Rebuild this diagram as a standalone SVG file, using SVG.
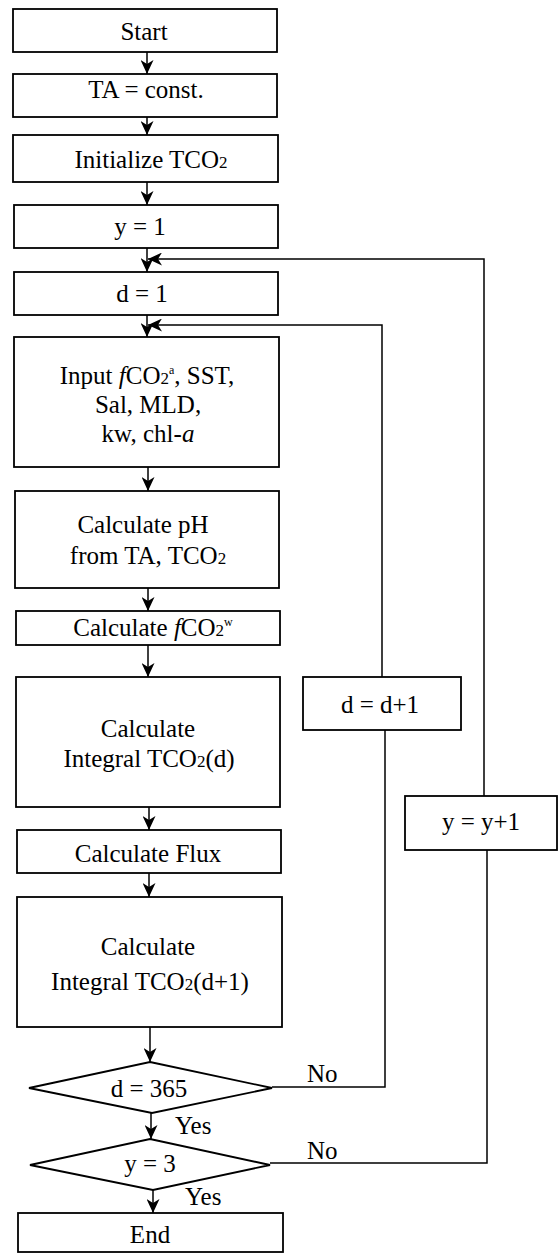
<svg xmlns="http://www.w3.org/2000/svg" width="559" height="1253" viewBox="0 0 559 1253">
<style>
  .box { fill: #fff; stroke: #000; stroke-width: 1.8; }
  .t { font-family: "Liberation Serif", "Times New Roman", serif; font-size: 25px; fill: #000; text-anchor: middle; }
  .tl { font-family: "Liberation Serif", "Times New Roman", serif; font-size: 25px; fill: #000; }
  .c { fill: none; stroke: #000; stroke-width: 1.5; }
  .sub { font-size: 17px; }
  .sup { font-size: 12px; }
</style>
<defs>
  <marker id="ah" viewBox="0 0 14 13" refX="14" refY="6.5" markerWidth="14" markerHeight="13" markerUnits="userSpaceOnUse" orient="auto">
    <path d="M0,0 L14,6.5 L0,13 L4,6.5 z" fill="#000"/>
  </marker>
</defs>
<rect width="559" height="1253" fill="#fff"/>

<g id="connectors">
  <line class="c" x1="147" y1="52" x2="147" y2="74" marker-end="url(#ah)"/>
  <line class="c" x1="147" y1="117" x2="147" y2="135" marker-end="url(#ah)"/>
  <line class="c" x1="147" y1="182" x2="147" y2="205" marker-end="url(#ah)"/>
  <line class="c" x1="147" y1="248" x2="147" y2="272" marker-end="url(#ah)"/>
  <line class="c" x1="147" y1="315" x2="147" y2="337" marker-end="url(#ah)"/>
  <line class="c" x1="148" y1="467" x2="148" y2="491" marker-end="url(#ah)"/>
  <line class="c" x1="148" y1="588" x2="148" y2="611" marker-end="url(#ah)"/>
  <line class="c" x1="148" y1="645" x2="148" y2="677" marker-end="url(#ah)"/>
  <line class="c" x1="149" y1="807" x2="149" y2="830" marker-end="url(#ah)"/>
  <line class="c" x1="149" y1="873" x2="149" y2="897" marker-end="url(#ah)"/>
  <line class="c" x1="150" y1="1027" x2="150" y2="1062" marker-end="url(#ah)"/>
  <line class="c" x1="151" y1="1113" x2="151" y2="1139" marker-end="url(#ah)"/>
  <line class="c" x1="153" y1="1190" x2="153" y2="1213" marker-end="url(#ah)"/>
  <path class="c" d="M382,677 V325 H148" marker-end="url(#ah)"/>
  <path class="c" d="M385,730 V1087 H272"/>
  <path class="c" d="M484,796 V259 H148" marker-end="url(#ah)"/>
  <path class="c" d="M487,850 V1163 H270"/>
  <text class="tl" x="307" y="1082">No</text>
  <text class="tl" x="307" y="1159">No</text>
  <text class="tl" x="175" y="1134">Yes</text>
  <text class="tl" x="185" y="1205">Yes</text>
</g>

<g id="start"><rect class="box" x="13" y="9" width="264" height="43"/><text class="t" x="144" y="40">Start</text></g>
<g id="ta"><rect class="box" x="13" y="74" width="264" height="43"/><text class="t" x="146" y="98">TA = const.</text></g>
<g id="init"><rect class="box" x="13" y="135" width="265" height="47"/><text class="t" x="151" y="168">Initialize TCO<tspan class="sub">2</tspan></text></g>
<g id="y1"><rect class="box" x="14" y="205" width="264" height="43"/><text class="t" x="140" y="235">y = 1</text></g>
<g id="d1"><rect class="box" x="14" y="272" width="264" height="43"/><text class="t" x="142" y="302">d = 1</text></g>
<g id="input"><rect class="box" x="14" y="337" width="265" height="130"/>
  <text class="t" x="147" y="384">Input <tspan font-style="italic">f</tspan>CO<tspan class="sub">2</tspan><tspan class="sup" dy="-10">a</tspan><tspan dy="10">, SST,</tspan></text>
  <text class="t" x="148" y="413">Sal, MLD,</text>
  <text class="t" x="148" y="442">kw, chl-<tspan font-style="italic">a</tspan></text>
</g>
<g id="ph"><rect class="box" x="15" y="491" width="264" height="97"/>
  <text class="t" x="143" y="533">Calculate  pH</text>
  <text class="t" x="148" y="564">from TA, TCO<tspan class="sub">2</tspan></text>
</g>
<g id="fco2w"><rect class="box" x="16" y="611" width="264" height="34"/>
  <text class="t" x="153" y="636">Calculate <tspan font-style="italic">f</tspan>CO<tspan class="sub">2</tspan><tspan class="sup" dy="-10">w</tspan></text>
</g>
<g id="intd"><rect class="box" x="16" y="677" width="264" height="130"/>
  <text class="t" x="148" y="737">Calculate</text>
  <text class="t" x="149" y="767">Integral TCO<tspan class="sub">2</tspan>(d)</text>
</g>
<g id="flux"><rect class="box" x="17" y="830" width="264" height="43"/>
  <text class="t" x="148" y="862">Calculate  Flux</text>
</g>
<g id="intd1"><rect class="box" x="17" y="897" width="265" height="130"/>
  <text class="t" x="148" y="955">Calculate</text>
  <text class="t" x="150" y="990">Integral TCO<tspan class="sub">2</tspan>(d+1)</text>
</g>
<g id="d365"><polygon class="box" points="150,1062 272,1088 152,1113 29,1088"/>
  <text class="t" x="149" y="1097">d = 365</text>
</g>
<g id="y3"><polygon class="box" points="150,1139 270,1165 153,1190 30,1165"/>
  <text class="t" x="150" y="1172">y = 3</text>
</g>
<g id="end"><rect class="box" x="18" y="1213" width="265" height="39"/><text class="t" x="150" y="1243">End</text></g>
<g id="dd1"><rect class="box" x="303" y="677" width="158" height="53"/><text class="t" x="380" y="713">d = d+1</text></g>
<g id="yy1"><rect class="box" x="405" y="796" width="152" height="54"/><text class="t" x="481" y="830">y = y+1</text></g>
</svg>
